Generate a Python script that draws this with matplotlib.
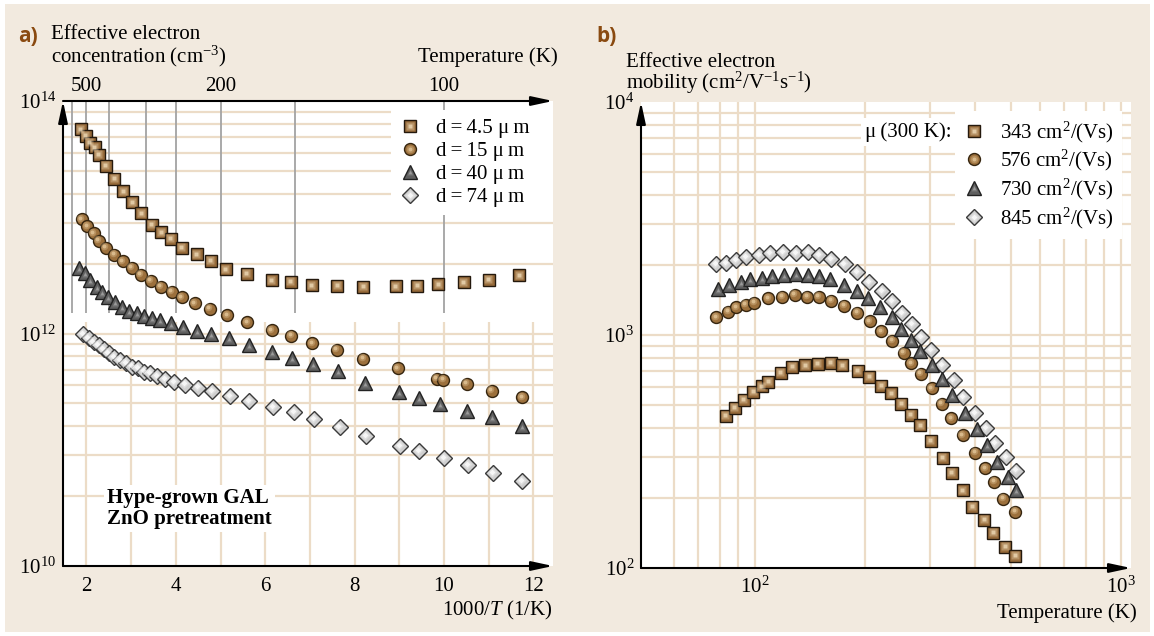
import matplotlib
matplotlib.use("Agg")
import matplotlib.pyplot as plt
from matplotlib.patches import Rectangle
from matplotlib.legend_handler import HandlerTuple
from matplotlib.ticker import NullLocator
from matplotlib import transforms

plt.rcParams['font.family'] = ['Liberation Serif', 'DejaVu Serif']
plt.rcParams['mathtext.fontset'] = 'custom'
plt.rcParams['mathtext.rm'] = 'Liberation Serif'
plt.rcParams['mathtext.it'] = 'Liberation Serif:italic'
plt.rcParams['mathtext.bf'] = 'Liberation Serif:bold'
plt.rcParams['font.size'] = 15

# ---------------- (a) carrier concentration vs 1000/T ----------------
inv_t_45 = [1.877, 1.989, 2.078, 2.190, 2.273, 2.437, 2.622, 2.824, 3.025, 3.227,
            3.46, 3.675, 3.885, 4.131, 4.467, 4.787, 5.123, 5.586, 6.153, 6.571,
            7.048, 7.615, 8.197, 8.922, 9.405, 9.876, 10.444, 11.004, 11.689]
conc_45 = [5.7e13, 5.0e13, 4.38e13, 4.0e13, 3.43e13, 2.77e13, 2.15e13, 1.68e13, 1.35e13, 1.08e13,
           8.6e12, 7.4e12, 6.5e12, 5.47e12, 4.8e12, 4.2e12, 3.56e12, 3.27e12, 2.88e12, 2.8e12,
           2.6e12, 2.56e12, 2.51e12, 2.55e12, 2.56e12, 2.65e12, 2.77e12, 2.9e12, 3.17e12]

inv_t_15 = [1.893, 2.018, 2.161, 2.28, 2.437, 2.622, 2.81, 3.012, 3.213, 3.437,
            3.668, 3.907, 4.138, 4.422, 4.765, 5.152, 5.6, 6.153, 6.582, 7.055,
            7.601, 8.197, 8.973, 9.84, 9.988, 10.512, 11.078, 11.756]
conc_15 = [9.6e12, 8.4e12, 7.28e12, 6.28e12, 5.47e12, 4.76e12, 4.18e12, 3.68e12, 3.19e12, 2.85e12,
           2.53e12, 2.28e12, 2.05e12, 1.82e12, 1.63e12, 1.43e12, 1.25e12, 1.07e12, 9.55e11, 8.24e11,
           7.22e11, 6.07e11, 5.02e11, 4.06e11, 4.0e11, 3.68e11, 3.22e11, 2.83e11]

inv_t_40 = [1.839, 1.966, 2.078, 2.228, 2.34, 2.488, 2.638, 2.788, 2.958, 3.137,
            3.287, 3.46, 3.645, 3.892, 4.154, 4.467, 4.78, 5.197, 5.638, 6.153,
            6.6, 7.07, 7.63, 8.235, 8.996, 9.443, 9.913, 10.517, 11.077, 11.749]
conc_40 = [3.64e12, 3.30e12, 2.88e12, 2.53e12, 2.29e12, 2.07e12, 1.88e12, 1.70e12, 1.56e12, 1.49e12,
           1.42e12, 1.35e12, 1.31e12, 1.22e12, 1.13e12, 1.06e12, 9.84e11, 9.1e11, 7.96e11, 6.93e11,
           6.12e11, 5.47e11, 4.76e11, 3.73e11, 3.16e11, 2.77e11, 2.48e11, 2.17e11, 1.90e11, 1.60e11]

inv_t_74 = [1.922, 2.045, 2.157, 2.269, 2.381, 2.493, 2.616, 2.75, 2.884, 3.019,
            3.153, 3.287, 3.422, 3.578, 3.757, 3.959, 4.205, 4.496, 4.81, 5.212,
            5.638, 6.175, 6.645, 7.104, 7.666, 8.257, 9.018, 9.443, 10.0, 10.54,
            11.1, 11.749]
conc_74 = [9.84e11, 9.1e11, 8.5e11, 7.96e11, 7.36e11, 6.8e11, 6.31e11, 5.91e11, 5.54e11, 5.2e11,
           5.0e11, 4.71e11, 4.53e11, 4.31e11, 4.06e11, 3.83e11, 3.64e11, 3.43e11, 3.2e11, 2.92e11,
           2.64e11, 2.32e11, 2.1e11, 1.84e11, 1.58e11, 1.32e11, 1.08e11, 9.75e10, 8.44e10, 7.39e10,
           6.27e10, 5.42e10]

labels_a = ['d\u2009=\u20094.5 μ\u2009m', 'd\u2009=\u200915 μ\u2009m',
            'd\u2009=\u200940 μ\u2009m', 'd\u2009=\u200974 μ\u2009m']
x_ticks_a = [2, 4, 6, 8, 10, 12]
temp_lines_a = [600, 500, 400, 300, 250, 200, 150, 100]
temp_labels_a = [500, 200, 100]

# ---------------- (b) mobility vs temperature ----------------
temp_343 = [83.2, 88.0, 93.3, 98.8, 104.3, 108.7, 117.5, 126.4, 137.2, 148.2,
            160.8, 172.9, 190.5, 205.3, 221.4, 235.8, 250.9, 266.5, 282.8, 302.2,
            325.2, 344.9, 368.7, 392.6, 422.6, 448.0, 482.1, 513.3]
mob_343 = [449, 486, 528, 571, 602, 630, 689, 731, 741, 751,
           762, 743, 703, 660, 604, 562, 507, 455, 409, 351,
           297, 256, 216, 183, 161, 142, 123, 113]

temp_576 = [78.4, 84.4, 88.9, 94.3, 99.6, 108.7, 118.7, 128.5, 138.8, 149.4,
            161.4, 175.1, 190.0, 205.8, 221.4, 236.7, 254.6, 267.3, 283.9, 304.1,
            323.8, 343.6, 368.7, 399.4, 425.2, 450.8, 477.0, 513.3]
mob_576 = [1191, 1259, 1315, 1345, 1376, 1437, 1460, 1485, 1460, 1460,
           1404, 1336, 1247, 1148, 1040, 945, 840, 756, 680, 590,
           507, 439, 372, 312, 268, 235, 198, 174]

temp_730 = [79.3, 84.9, 91.4, 96.7, 104.3, 111.1, 120.0, 129.6, 139.7, 149.4,
            160.1, 174.8, 189.3, 203.6, 220.0, 236.7, 250.9, 267.3, 282.8, 304.1,
            323.8, 344.9, 373.6, 405.1, 429.5, 457.3, 490.0, 515.2]
mob_730 = [1571, 1639, 1683, 1734, 1762, 1792, 1810, 1822, 1810, 1792,
           1734, 1639, 1549, 1437, 1315, 1191, 1058, 952, 856, 743,
           647, 553, 461, 394, 337, 286, 245, 216]

temp_845 = [78.1, 83.5, 88.9, 94.3, 102.5, 109.7, 119.2, 129.1, 139.7, 149.4,
            161.1, 175.6, 190.0, 205.3, 222.3, 236.7, 251.9, 268.3, 284.6, 303.0,
            323.8, 348.5, 371.0, 398.7, 428.0, 452.8, 485.1, 516.5]
mob_845 = [2011, 2031, 2099, 2156, 2204, 2242, 2271, 2256, 2271, 2198,
           2126, 2011, 1864, 1688, 1549, 1404, 1240, 1111, 977, 862,
           741, 641, 542, 461, 398, 343, 299, 262]

labels_b = ['343 cm$^2$/(Vs)', '576 cm$^2$/(Vs)', '730 cm$^2$/(Vs)', '845 cm$^2$/(Vs)']

# ---------------- styling ----------------
W, H = 1154, 636
BG = '#f2eadf'
GRID = '#ecdcc7'
TGRAY = '#a3a3a3'
LABEL_BROWN = '#8a4a10'

STYLES = [
    dict(marker='s', ms=8.4, face='#976b3a', edge='#24190d', hi='#f0dcba', hi_ms=(5.6, 2.8),
         off=(-0.4, 0.4), z=3.0),
    dict(marker='o', ms=8.6, face='#9c703c', edge='#35250f', hi='#e6c99c', hi_ms=(5.4, 2.8),
         off=(-1.1, 1.1), z=3.4),
    dict(marker='^', ms=9.8, face='#5f5f5f', edge='#222222', hi='#a8a8a8', hi_ms=(5.0, 2.4),
         off=(0.0, -0.8), z=3.6),
    dict(marker='D', ms=8.4, face='#cfcfcf', edge='#3a3a3a', hi='#ffffff', hi_ms=(5.6, 3.0),
         off=(-0.8, 0.8), z=3.2),
]


def fx(px):
    return px / W


def fy(py):
    return 1 - py / H


def draw_series(ax, x, y, st):
    base, = ax.plot(x, y, ls='none', marker=st['marker'], ms=st['ms'],
                    mfc=st['face'], mec=st['edge'], mew=1.0, zorder=st['z'], clip_on=False)
    tr = transforms.offset_copy(ax.transData, fig=ax.figure,
                                x=st['off'][0], y=st['off'][1], units='points')
    glow, = ax.plot(x, y, ls='none', marker=st['marker'], ms=st['hi_ms'][0],
                    mfc=st['hi'], mec='none', alpha=0.35, zorder=st['z'] + 0.05,
                    transform=tr, clip_on=False)
    spot, = ax.plot(x, y, ls='none', marker=st['marker'], ms=st['hi_ms'][1],
                    mfc=st['hi'], mec='none', alpha=0.75, zorder=st['z'] + 0.1,
                    transform=tr, clip_on=False)
    return (base, glow, spot)


def arrow_axis(ax, start, end):
    ax.annotate('', xy=end, xytext=start, xycoords='axes fraction',
                textcoords='axes fraction', annotation_clip=False,
                arrowprops=dict(arrowstyle='-|>,head_length=1.3,head_width=0.28',
                                mutation_scale=10, lw=1.5, color='black',
                                shrinkA=0, shrinkB=0), zorder=6)


fig = plt.figure(figsize=(W / 100, H / 100), dpi=100)
fig.patch.set_facecolor('white')
fig.add_artist(Rectangle((fx(5), fy(632)), fx(1145), 628 / H, transform=fig.transFigure,
                         facecolor=BG, edgecolor='none', zorder=-10))

# ================= panel (a) =================
ax = fig.add_axes([fx(63), fy(566), fx(553 - 63), (566 - 101) / H])
ax.set_facecolor('white')
ax.set_yscale('log')
ax.set_xlim(1.474, 12.443)
ax.set_ylim(1e10, 1e14)
for s in ax.spines.values():
    s.set_visible(False)

# horizontal grid lines (square-spaced within each two decades)
for base in (1e10, 1e12):
    for k in range(2, 10):
        ax.axhline(base * k * k, color=GRID, lw=1.6, zorder=0.5)
ax.axhline(1e12, color=GRID, lw=1.6, zorder=0.5)
ax.vlines(range(2, 13), 1e10, 1.26e12, color=GRID, lw=1.6, zorder=0.5)
ax.vlines([1000.0 / t for t in temp_lines_a], 1.5e12, 1e14, color=TGRAY, lw=1.3, zorder=1)

handles_a = []
for (xv, yv), st in zip([(inv_t_45, conc_45), (inv_t_15, conc_15),
                         (inv_t_40, conc_40), (inv_t_74, conc_74)], STYLES):
    handles_a.append(draw_series(ax, xv, yv, st))

ax.set_xticks(x_ticks_a)
ax.set_xticklabels([str(v) for v in x_ticks_a])
ax.set_yticks([1e10, 1e12, 1e14])
ax.set_yticklabels(['$10^{10}$', '$10^{12}$', '$10^{14}$'])
ax.yaxis.set_minor_locator(NullLocator())
ax.tick_params(axis='x', length=0, pad=8, labelsize=15)
ax.tick_params(axis='y', length=0, pad=5, labelsize=15)

for t in temp_labels_a:
    ax.annotate(str(t), xy=(1000.0 / t, 1), xycoords=('data', 'axes fraction'),
                xytext=(0, 7), textcoords='offset points', ha='center', va='baseline',
                fontsize=15, annotation_clip=False)

arrow_axis(ax, (0, 0), (0, 1))
arrow_axis(ax, (0, 0), (1, 0))
arrow_axis(ax, (0, 1), (1, 1))

leg_a = ax.legend(handles_a, labels_a, handler_map={tuple: HandlerTuple(ndivide=1)},
                  loc='upper right', bbox_to_anchor=(1.0 - 15 / 490, 0.98), frameon=True,
                  facecolor='white', edgecolor='none', framealpha=1, fancybox=False,
                  borderpad=0.4, labelspacing=0.16, handlelength=1.0,
                  handletextpad=0.75, borderaxespad=0, fontsize=15)
leg_a.set_zorder(5)

ax.text((107 - 63) / 490, (566 - 488) / 465, 'Hype-grown GAL\nZnO pretreatment',
        transform=ax.transAxes, ha='left', va='top', fontsize=15, fontweight='bold',
        linespacing=1.05, zorder=4,
        bbox=dict(facecolor='white', edgecolor='none', boxstyle='square,pad=0.15'))

fig.text(fx(18), fy(42), 'a)', fontsize=15, fontweight='bold', color=LABEL_BROWN,
         family=['Open Sans', 'DejaVu Sans'], va='baseline')
fig.text(fx(51), fy(39), 'Effective electron', fontsize=15, va='baseline')
fig.text(fx(51), fy(62), 'concentration (cm$^{-3}$)', fontsize=15, va='baseline')
fig.text(fx(558), fy(62), 'Temperature (K)', fontsize=15, va='baseline', ha='right')
fig.text(fx(553), fy(615), '1000/$T$ (1/K)', fontsize=15, va='baseline', ha='right')

# ================= panel (b) =================
bx = fig.add_axes([fx(641), fy(568), fx(1131 - 641), (568 - 102) / H])
bx.set_facecolor('white')
bx.set_xscale('log')
bx.set_yscale('log')
bx.set_xlim(48.8, 1064)
bx.set_ylim(1e2, 1e4)
for s in bx.spines.values():
    s.set_visible(False)

for v in [60, 70, 80, 90, 100, 200, 300, 400, 500, 600, 700, 800, 900, 1000]:
    bx.axvline(v, color=GRID, lw=1.6, zorder=0.5)
for v in [200, 300, 400, 500, 600, 700, 800, 900, 1000,
          2000, 3000, 4000, 5000, 6000, 7000, 8000, 9000]:
    bx.axhline(v, color=GRID, lw=1.6, zorder=0.5)

handles_b = []
for (xv, yv), st in zip([(temp_343, mob_343), (temp_576, mob_576),
                         (temp_730, mob_730), (temp_845, mob_845)], STYLES):
    handles_b.append(draw_series(bx, xv, yv, st))

bx.set_xticks([1e2, 1e3])
bx.set_xticklabels(['$10^2$', '$10^3$'])
bx.set_yticks([1e2, 1e3, 1e4])
bx.set_yticklabels(['$10^2$', '$10^3$', '$10^4$'])
bx.xaxis.set_minor_locator(NullLocator())
bx.yaxis.set_minor_locator(NullLocator())
bx.tick_params(axis='x', length=0, pad=6, labelsize=15)
bx.tick_params(axis='y', length=0, pad=5, labelsize=15)

arrow_axis(bx, (0, 0), (0, 1))
arrow_axis(bx, (0, 0), (1, 0))

leg_b = bx.legend(handles_b, labels_b, handler_map={tuple: HandlerTuple(ndivide=1)},
                  loc='upper right', bbox_to_anchor=(1.0 - 9 / 490, 0.98), frameon=True,
                  facecolor='white', edgecolor='none', framealpha=1, fancybox=False,
                  borderpad=0.4, labelspacing=0.16, handlelength=1.0,
                  handletextpad=0.75, borderaxespad=0, fontsize=15)
leg_b.set_zorder(5)

fig.text(fx(596), fy(42), 'b)', fontsize=15, fontweight='bold', color=LABEL_BROWN,
         family=['Open Sans', 'DejaVu Sans'], va='baseline')
fig.text(fx(626), fy(67), 'Effective electron', fontsize=15, va='baseline')
fig.text(fx(626), fy(89), 'mobility (cm$^2$/V$^{-1}$s$^{-1}$)', fontsize=15, va='baseline')
fig.text(fx(1137), fy(618), 'Temperature (K)', fontsize=15, va='baseline', ha='right')

# legend layout fix-ups that depend on rendered sizes
fig.canvas.draw()
frame_bb = leg_b.get_frame().get_window_extent()
row_bb = leg_b.get_texts()[0].get_window_extent()
fig.text((frame_bb.x0 - 3) / W, (row_bb.y0 + row_bb.y1) / 2 / H, 'μ\u2009(300 K):',
         fontsize=15, ha='right', va='center', zorder=5,
         bbox=dict(facecolor='white', edgecolor='none', boxstyle='square,pad=0.2'))

# keep the strip between the concentration legend and the panel edge clear
fa = leg_a.get_frame().get_window_extent()
ax_bb = ax.get_window_extent()
inv = ax.transAxes.inverted()
(x0, y0), (x1, y1) = inv.transform([(fa.x1 - 1, fa.y0), (ax_bb.x1, fa.y1)])
ax.add_patch(Rectangle((x0, y0), x1 - x0, y1 - y0, transform=ax.transAxes,
                       facecolor='white', edgecolor='none', zorder=4.9, clip_on=False))

fig.savefig('out.png', dpi=100, facecolor=fig.get_facecolor())
